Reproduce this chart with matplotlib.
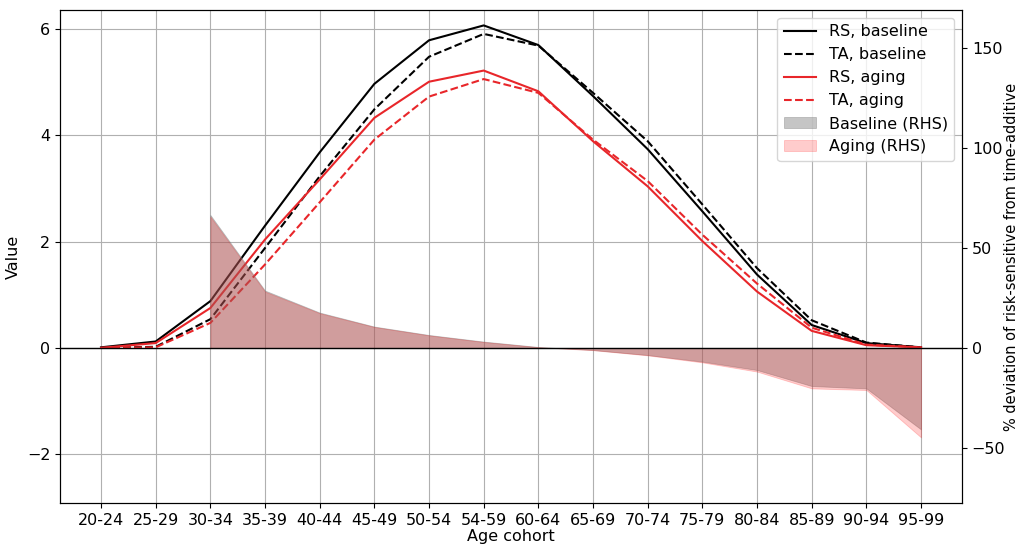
import numpy as np
import matplotlib
matplotlib.use('Agg')
import matplotlib.pyplot as plt

# Data
cohorts = ['20-24', '25-29', '30-34', '35-39', '40-44', '45-49', '50-54', '54-59',
           '60-64', '65-69', '70-74', '75-79', '80-84', '85-89', '90-94', '95-99']
rs_baseline = [0.01, 0.12, 0.88, 2.30, 3.68, 4.97, 5.79, 6.07, 5.70, 4.74, 3.74, 2.57, 1.38, 0.43, 0.09, 0.01]
ta_baseline = [0.00, 0.02, 0.54, 1.88, 3.23, 4.49, 5.48, 5.91, 5.69, 4.80, 3.89, 2.70, 1.50, 0.52, 0.10, 0.01]
rs_aging = [0.00, 0.09, 0.75, 2.04, 3.17, 4.33, 5.01, 5.22, 4.83, 3.89, 3.04, 2.01, 1.06, 0.32, 0.05, 0.01]
ta_aging = [0.00, 0.01, 0.47, 1.57, 2.74, 3.92, 4.73, 5.06, 4.80, 3.92, 3.14, 2.13, 1.21, 0.38, 0.06, 0.01]
dev_baseline = [np.nan, np.nan, 66.5, 28.7, 17.7, 10.7, 6.5, 3.2, 0.5, -1.0, -3.5, -6.8, -11.0, -19.0, -20.2, -40.7]
dev_aging = [np.nan, np.nan, 65.7, 28.2, 17.4, 10.5, 6.3, 3.0, 0.4, -1.1, -3.7, -7.2, -11.8, -20.2, -21.0, -44.7]

x = np.arange(len(cohorts))

fig = plt.figure(figsize=(10.19, 5.44), dpi=100)
ax1 = fig.add_axes([0.0589, 0.0754, 0.8852, 0.9062])
ax2 = ax1.twinx()

ax1.plot(x, rs_baseline, color='black', lw=1.5, label='RS, baseline')
ax1.plot(x, ta_baseline, color='black', lw=1.5, ls='--', label='TA, baseline')
ax1.plot(x, rs_aging, color='#e8262a', lw=1.5, label='RS, aging')
ax1.plot(x, ta_aging, color='#e8262a', lw=1.5, ls='--', label='TA, aging')

ax2.fill_between(x, 0, dev_baseline, color='gray', alpha=0.45, lw=0.6, label='Baseline (RHS)')
ax2.fill_between(x, 0, dev_aging, color='red', alpha=0.2, lw=0.6, label='Aging (RHS)')
ax2.axhline(0, color='black', lw=1)

ax1.set_xlim(-0.75, 15.75)
ax1.set_ylim(-2.92, 6.36)
ax2.set_ylim(-77.5, 169)
ax1.set_yticks([-2, 0, 2, 4, 6])
ax2.set_yticks([-50, 0, 50, 100, 150])
ax1.set_xticks(x)
ax1.set_xticklabels(cohorts)
ax1.grid(True, color='#b0b0b0', lw=0.8)

fs = 11.5
ax1.tick_params(labelsize=fs)
ax2.tick_params(labelsize=fs)
ax1.set_xlabel('Age cohort', fontsize=fs, labelpad=1)
ax1.set_ylabel('Value', fontsize=fs)
ax2.set_ylabel('% deviation of risk-sensitive from time-additive', fontsize=10.5, labelpad=-1)

h1, l1 = ax1.get_legend_handles_labels()
h2, l2 = ax2.get_legend_handles_labels()
ax2.legend(h1 + h2, l1 + l2, loc='upper right', fontsize=fs)

fig.savefig('out.png', dpi=100)
